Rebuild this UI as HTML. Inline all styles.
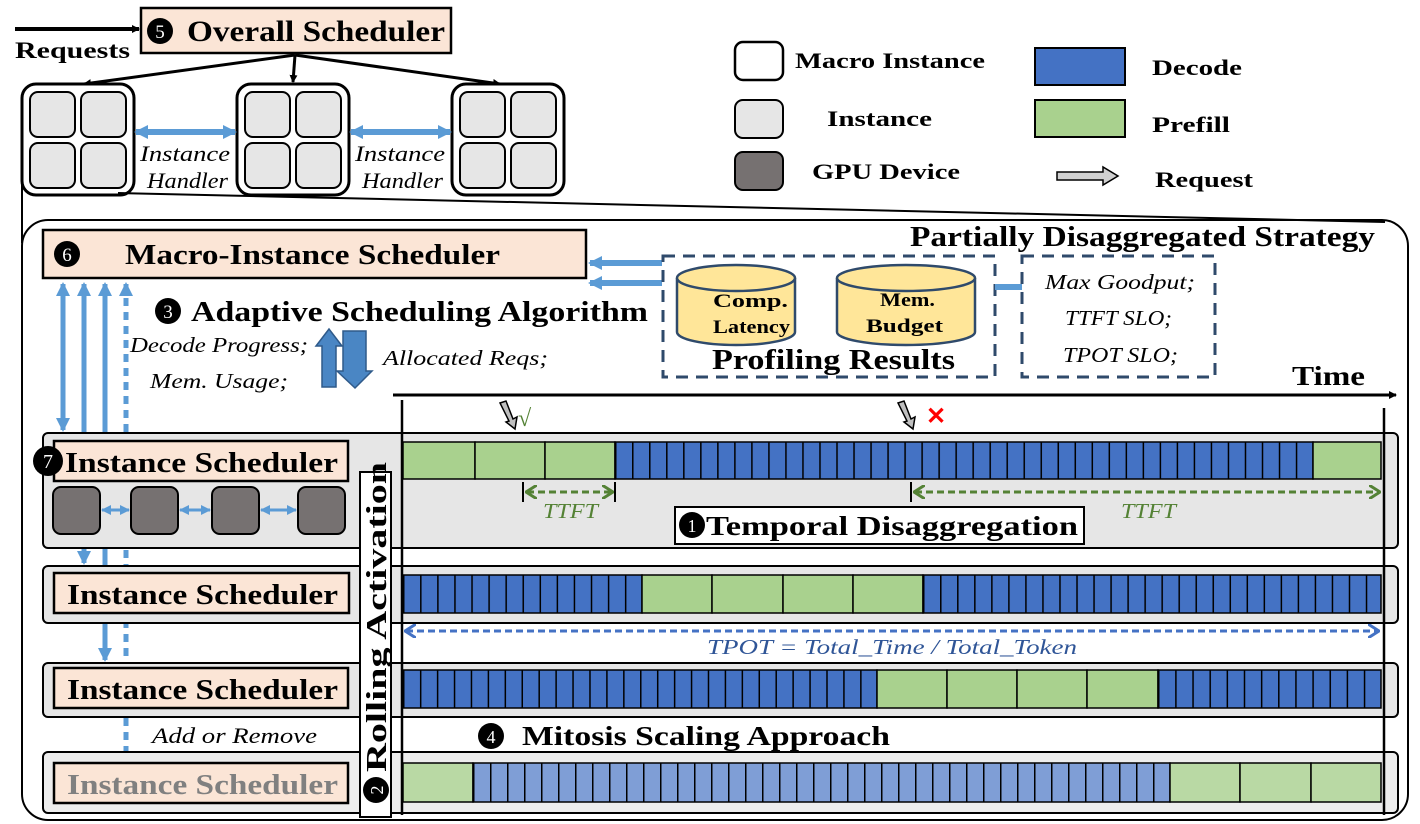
<!DOCTYPE html>
<html><head><meta charset="utf-8"><style>
html,body{margin:0;padding:0;background:#fff}
svg{display:block}
text{font-family:"Liberation Serif",serif}
.b{font-weight:bold}
.i{font-style:italic}
</style></head><body>
<svg width="1420" height="824" viewBox="0 0 1420 824" xmlns="http://www.w3.org/2000/svg">
<defs>
<marker id="ak" markerWidth="8" markerHeight="8" refX="7" refY="4" orient="auto" markerUnits="userSpaceOnUse"><path d="M0,0 L8,4 L0,8 Z" fill="#000"/></marker>
<marker id="ab" markerWidth="14" markerHeight="14" refX="12" refY="7" orient="auto-start-reverse" markerUnits="userSpaceOnUse"><path d="M0,0 L14,7 L0,14 Z" fill="#5B9BD5"/></marker>
<marker id="abs" markerWidth="10" markerHeight="10" refX="9" refY="5" orient="auto-start-reverse" markerUnits="userSpaceOnUse"><path d="M0,0 L10,5 L0,10 Z" fill="#5B9BD5"/></marker>
<marker id="ag" markerWidth="12" markerHeight="14" refX="10" refY="7" orient="auto-start-reverse" markerUnits="userSpaceOnUse"><path d="M0,0 L11,7 L0,14" fill="none" stroke="#548235" stroke-width="3"/></marker>
<marker id="abd" markerWidth="12" markerHeight="14" refX="10" refY="7" orient="auto-start-reverse" markerUnits="userSpaceOnUse"><path d="M0,0 L11,7 L0,14" fill="none" stroke="#4472C4" stroke-width="3"/></marker>
<pattern id="p1" x="615" y="0" width="17.02" height="10" patternUnits="userSpaceOnUse"><rect width="17.02" height="10" fill="#4472C4"/><rect width="1.5" height="10" fill="#000"/></pattern>
<pattern id="p2" x="403" y="0" width="17.07" height="10" patternUnits="userSpaceOnUse"><rect width="17.07" height="10" fill="#4472C4"/><rect width="1.5" height="10" fill="#000"/></pattern>
<pattern id="p3" x="923" y="0" width="17.03" height="10" patternUnits="userSpaceOnUse"><rect width="17.03" height="10" fill="#4472C4"/><rect width="1.5" height="10" fill="#000"/></pattern>
<pattern id="p4" x="1158" y="0" width="17.15" height="10" patternUnits="userSpaceOnUse"><rect width="17.15" height="10" fill="#4472C4"/><rect width="1.5" height="10" fill="#000"/></pattern>
<pattern id="p5" x="473" y="0" width="17" height="10" patternUnits="userSpaceOnUse"><rect width="17" height="10" fill="#7F9ED6"/><rect width="1.5" height="10" fill="#000"/></pattern>
<pattern id="p6" x="403" y="0" width="16.93" height="10" patternUnits="userSpaceOnUse"><rect width="16.93" height="10" fill="#4472C4"/><rect width="1.5" height="10" fill="#000"/></pattern>
</defs>

<line x1="15" y1="29" x2="139" y2="29" stroke="#000" stroke-width="4" marker-end="url(#ak)"/>
<text x="15" y="58" class="b" font-size="23" textLength="115" lengthAdjust="spacingAndGlyphs">Requests</text>
<rect x="141" y="8" width="310" height="45" fill="#FBE5D6" stroke="#000" stroke-width="2.5"/>
<circle cx="160" cy="31" r="13" fill="#000"/>
<text x="160" y="38" font-size="19" fill="#fff" text-anchor="middle">5</text>
<text x="187" y="41" class="b" font-size="30" textLength="258" lengthAdjust="spacingAndGlyphs">Overall Scheduler</text>
<g stroke="#000" stroke-width="3" fill="none">
<line x1="295" y1="55" x2="84" y2="84" marker-end="url(#ak)"/>
<line x1="295" y1="55" x2="293" y2="82" marker-end="url(#ak)"/>
<line x1="295" y1="55" x2="500" y2="84" marker-end="url(#ak)"/>
</g>
<g stroke="#000">
<rect x="22" y="84" width="112" height="111" rx="14" fill="#fff" stroke-width="3"/>
<rect x="237" y="84" width="112" height="111" rx="14" fill="#fff" stroke-width="3"/>
<rect x="452" y="84" width="112" height="111" rx="14" fill="#fff" stroke-width="3"/>
<g fill="#E6E6E6" stroke-width="2">
<rect x="30" y="92" width="45" height="45" rx="8"/><rect x="81" y="92" width="45" height="45" rx="8"/>
<rect x="30" y="143" width="45" height="45" rx="8"/><rect x="81" y="143" width="45" height="45" rx="8"/>
<rect x="245" y="92" width="45" height="45" rx="8"/><rect x="296" y="92" width="45" height="45" rx="8"/>
<rect x="245" y="143" width="45" height="45" rx="8"/><rect x="296" y="143" width="45" height="45" rx="8"/>
<rect x="460" y="92" width="45" height="45" rx="8"/><rect x="511" y="92" width="45" height="45" rx="8"/>
<rect x="460" y="143" width="45" height="45" rx="8"/><rect x="511" y="143" width="45" height="45" rx="8"/>
</g></g>
<line x1="136" y1="132" x2="235" y2="132" stroke="#5B9BD5" stroke-width="6" marker-start="url(#ab)" marker-end="url(#ab)"/>
<line x1="351" y1="132" x2="450" y2="132" stroke="#5B9BD5" stroke-width="6" marker-start="url(#ab)" marker-end="url(#ab)"/>
<text x="140" y="161" class="i" font-size="22" textLength="90" lengthAdjust="spacingAndGlyphs">Instance</text>
<text x="147" y="188" class="i" font-size="22" textLength="81" lengthAdjust="spacingAndGlyphs">Handler</text>
<text x="355" y="161" class="i" font-size="22" textLength="90" lengthAdjust="spacingAndGlyphs">Instance</text>
<text x="362" y="188" class="i" font-size="22" textLength="81" lengthAdjust="spacingAndGlyphs">Handler</text>

<rect x="735" y="42" width="48" height="38" rx="8" fill="#fff" stroke="#000" stroke-width="2.5"/>
<text x="795" y="68" class="b" font-size="22" textLength="190" lengthAdjust="spacingAndGlyphs">Macro Instance</text>
<rect x="735" y="100" width="48" height="38" rx="8" fill="#E6E6E6" stroke="#000" stroke-width="2"/>
<text x="827" y="126" class="b" font-size="22" textLength="105" lengthAdjust="spacingAndGlyphs">Instance</text>
<rect x="735" y="152" width="48" height="38" rx="8" fill="#767171" stroke="#000" stroke-width="2"/>
<text x="812" y="179" class="b" font-size="22" textLength="148" lengthAdjust="spacingAndGlyphs">GPU Device</text>
<rect x="1035" y="48" width="90" height="37" fill="#4472C4" stroke="#000" stroke-width="2"/>
<text x="1152" y="75" class="b" font-size="22" textLength="90" lengthAdjust="spacingAndGlyphs">Decode</text>
<rect x="1035" y="100" width="90" height="37" fill="#A9D18E" stroke="#000" stroke-width="2"/>
<text x="1152" y="132" class="b" font-size="22" textLength="78" lengthAdjust="spacingAndGlyphs">Prefill</text>
<path d="M1057,172 L1103,172 L1103,167 L1118,176 L1103,185 L1103,180 L1057,180 Z" fill="#D0D0D0" stroke="#000" stroke-width="1.5"/>
<text x="1155" y="187" class="b" font-size="22" textLength="98" lengthAdjust="spacingAndGlyphs">Request</text>

<line x1="22" y1="170" x2="22" y2="243" stroke="#000" stroke-width="2"/>
<line x1="118" y1="193" x2="1385" y2="222" stroke="#000" stroke-width="2"/>
<rect x="22" y="220" width="1386" height="600" rx="26" fill="none" stroke="#000" stroke-width="2"/>

<rect x="43" y="230" width="543" height="48" fill="#FBE5D6" stroke="#000" stroke-width="2.5"/>
<circle cx="67" cy="254" r="13" fill="#000"/>
<text x="67" y="261" font-size="19" fill="#fff" text-anchor="middle">6</text>
<text x="125" y="264" class="b" font-size="28" textLength="375" lengthAdjust="spacingAndGlyphs">Macro-Instance Scheduler</text>
<text x="910" y="246" class="b" font-size="29" textLength="465" lengthAdjust="spacingAndGlyphs">Partially Disaggregated Strategy</text>

<line x1="662" y1="263" x2="590" y2="263" stroke="#5B9BD5" stroke-width="6" marker-end="url(#ab)"/>
<line x1="662" y1="283" x2="590" y2="283" stroke="#5B9BD5" stroke-width="6" marker-end="url(#ab)"/>
<rect x="663" y="256" width="332" height="121" fill="none" stroke="#2F4A6B" stroke-width="3" stroke-dasharray="12,8"/>
<rect x="1022" y="256" width="193" height="121" fill="none" stroke="#2F4A6B" stroke-width="3" stroke-dasharray="12,8"/>
<line x1="995" y1="287" x2="1022" y2="287" stroke="#5B9BD5" stroke-width="6"/>
<g stroke="#2F4A6B" stroke-width="2.5" fill="#FFE699">
<path d="M677,278 L677,332 A59,13 0 0 0 795,332 L795,278"/>
<ellipse cx="736" cy="278" rx="59" ry="13"/>
<path d="M837,278 L837,332 A69,13 0 0 0 975,332 L975,278"/>
<ellipse cx="906" cy="278" rx="69" ry="13"/>
</g>
<text x="713" y="307" class="b" font-size="19" textLength="75" lengthAdjust="spacingAndGlyphs">Comp.</text>
<text x="713" y="333" class="b" font-size="19" textLength="77" lengthAdjust="spacingAndGlyphs">Latency</text>
<text x="880" y="306" class="b" font-size="19" textLength="55" lengthAdjust="spacingAndGlyphs">Mem.</text>
<text x="866" y="332" class="b" font-size="19" textLength="77" lengthAdjust="spacingAndGlyphs">Budget</text>
<text x="712" y="369" class="b" font-size="28" textLength="243" lengthAdjust="spacingAndGlyphs">Profiling Results</text>
<text x="1045" y="289" class="i" font-size="21" textLength="150" lengthAdjust="spacingAndGlyphs">Max Goodput;</text>
<text x="1065" y="325" class="i" font-size="21" textLength="107" lengthAdjust="spacingAndGlyphs">TTFT SLO;</text>
<text x="1063" y="362" class="i" font-size="21" textLength="115" lengthAdjust="spacingAndGlyphs">TPOT SLO;</text>

<circle cx="168" cy="311" r="13" fill="#000"/>
<text x="168" y="318" font-size="19" fill="#fff" text-anchor="middle">3</text>
<text x="191" y="321" class="b" font-size="29" textLength="457" lengthAdjust="spacingAndGlyphs">Adaptive Scheduling Algorithm</text>
<text x="130" y="352" class="i" font-size="21" textLength="178" lengthAdjust="spacingAndGlyphs">Decode Progress;</text>
<text x="150" y="388" class="i" font-size="21" textLength="138" lengthAdjust="spacingAndGlyphs">Mem. Usage;</text>
<text x="383" y="365" class="i" font-size="21" textLength="165" lengthAdjust="spacingAndGlyphs">Allocated Reqs;</text>
<path d="M322,387 L322,346 L316,346 L329,329 L342,346 L336,346 L336,387 Z" fill="#4A86C4" stroke="#2F5A8A" stroke-width="1.5"/>
<path d="M343,331 L343,371 L337,371 L355,388 L372,371 L366,371 L366,331 Z" fill="#4A86C4" stroke="#2F5A8A" stroke-width="1.5"/>

<line x1="63" y1="284" x2="63" y2="430" stroke="#5B9BD5" stroke-width="5" marker-start="url(#ab)" marker-end="url(#ab)"/>
<line x1="84" y1="284" x2="84" y2="563" stroke="#5B9BD5" stroke-width="5" marker-start="url(#ab)" marker-end="url(#ab)"/>
<line x1="105" y1="284" x2="105" y2="660" stroke="#5B9BD5" stroke-width="5" marker-start="url(#ab)" marker-end="url(#ab)"/>
<line x1="126" y1="284" x2="126" y2="766" stroke="#5B9BD5" stroke-width="5" stroke-dasharray="8,6" marker-start="url(#ab)" marker-end="url(#ab)"/>

<line x1="393" y1="395" x2="1396" y2="395" stroke="#000" stroke-width="3" marker-end="url(#ak)"/>
<text x="1292" y="385" class="b" font-size="27" textLength="73" lengthAdjust="spacingAndGlyphs">Time</text>

<g fill="#E6E6E6" stroke="#000" stroke-width="2">
<rect x="43" y="433" width="1355" height="115" rx="5"/>
<rect x="43" y="566" width="1355" height="57" rx="5"/>
<rect x="43" y="663" width="1355" height="54" rx="5"/>
<rect x="43" y="752" width="1355" height="61" rx="5" fill="#EDEDED"/>
</g>

<path d="M500,403 L506,401 L513,419 L517,417 L515,429 L506,422 L509,421 Z" fill="#BFBFBF" stroke="#000" stroke-width="1.5"/>
<text x="518" y="426" font-size="24" fill="#548235">√</text>
<path d="M898,403 L904,401 L911,419 L915,417 L913,429 L904,422 L907,421 Z" fill="#BFBFBF" stroke="#000" stroke-width="1.5"/>
<text x="936" y="424" font-size="24" fill="#FF0000" class="b" text-anchor="middle">✕</text>

<g stroke="#000" stroke-width="1.5">
<rect x="403" y="442" width="72" height="37" fill="#A9D18E"/>
<rect x="475" y="442" width="70" height="37" fill="#A9D18E"/>
<rect x="545" y="442" width="70" height="37" fill="#A9D18E"/>
<rect x="615" y="442" width="698" height="37" fill="url(#p1)"/>
<rect x="1313" y="442" width="68" height="37" fill="#A9D18E"/>
<rect x="403" y="575" width="239" height="38" fill="url(#p2)"/>
<rect x="642" y="575" width="70" height="38" fill="#A9D18E"/>
<rect x="712" y="575" width="71" height="38" fill="#A9D18E"/>
<rect x="783" y="575" width="70" height="38" fill="#A9D18E"/>
<rect x="853" y="575" width="70" height="38" fill="#A9D18E"/>
<rect x="923" y="575" width="458" height="38" fill="url(#p3)"/>
<rect x="403" y="670" width="474" height="38" fill="url(#p6)"/>
<rect x="877" y="670" width="70" height="38" fill="#A9D18E"/>
<rect x="947" y="670" width="70" height="38" fill="#A9D18E"/>
<rect x="1017" y="670" width="70" height="38" fill="#A9D18E"/>
<rect x="1087" y="670" width="71" height="38" fill="#A9D18E"/>
<rect x="1158" y="670" width="223" height="38" fill="url(#p4)"/>
<rect x="403" y="763" width="70" height="39" fill="#B9D9A4"/>
<rect x="473" y="763" width="697" height="39" fill="url(#p5)"/>
<rect x="1170" y="763" width="70" height="39" fill="#B9D9A4"/>
<rect x="1240" y="763" width="71" height="39" fill="#B9D9A4"/>
<rect x="1311" y="763" width="70" height="39" fill="#B9D9A4"/>
</g>

<line x1="402" y1="400" x2="402" y2="815" stroke="#000" stroke-width="2.5"/>
<line x1="1384" y1="408" x2="1384" y2="815" stroke="#000" stroke-width="2.5"/>

<line x1="523" y1="482" x2="523" y2="502" stroke="#000" stroke-width="2"/>
<line x1="615" y1="482" x2="615" y2="502" stroke="#000" stroke-width="2"/>
<line x1="527" y1="492" x2="612" y2="492" stroke="#548235" stroke-width="3" stroke-dasharray="7,4" marker-start="url(#ag)" marker-end="url(#ag)"/>
<text x="543" y="518" class="i" font-size="21" fill="#548235" textLength="55" lengthAdjust="spacingAndGlyphs">TTFT</text>
<line x1="911" y1="482" x2="911" y2="502" stroke="#000" stroke-width="2"/>
<line x1="915" y1="492" x2="1379" y2="492" stroke="#548235" stroke-width="3" stroke-dasharray="7,4" marker-start="url(#ag)" marker-end="url(#ag)"/>
<text x="1121" y="518" class="i" font-size="21" fill="#548235" textLength="55" lengthAdjust="spacingAndGlyphs">TTFT</text>
<rect x="675" y="507" width="409" height="37" fill="#fff" stroke="#000" stroke-width="2"/>
<circle cx="692" cy="525" r="13" fill="#000"/>
<text x="692" y="532" font-size="18" fill="#fff" text-anchor="middle">1</text>
<text x="706" y="535" class="b" font-size="27" textLength="372" lengthAdjust="spacingAndGlyphs">Temporal Disaggregation</text>

<line x1="406" y1="631" x2="1378" y2="631" stroke="#4472C4" stroke-width="3" stroke-dasharray="7,4" marker-start="url(#abd)" marker-end="url(#abd)"/>
<text x="707" y="654" class="i" font-size="21" fill="#2F5597" textLength="370" lengthAdjust="spacingAndGlyphs">TPOT = Total_Time / Total_Token</text>

<circle cx="491" cy="736" r="13" fill="#000"/>
<text x="491" y="743" font-size="18" fill="#fff" text-anchor="middle">4</text>
<text x="522" y="745" class="b" font-size="27" textLength="368" lengthAdjust="spacingAndGlyphs">Mitosis Scaling Approach</text>

<g stroke="#000" stroke-width="2.5" fill="#FBE5D6">
<rect x="54" y="441" width="294" height="40"/>
<rect x="54" y="573" width="295" height="40"/>
<rect x="54" y="668" width="294" height="40"/>
<rect x="54" y="763" width="294" height="40"/>
</g>
<circle cx="48" cy="461" r="15" fill="#000"/>
<text x="48" y="468" font-size="20" fill="#fff" text-anchor="middle">7</text>
<text x="65" y="472" class="b" font-size="28" textLength="273" lengthAdjust="spacingAndGlyphs">Instance Scheduler</text>
<text x="67" y="604" class="b" font-size="28" textLength="271" lengthAdjust="spacingAndGlyphs">Instance Scheduler</text>
<text x="67" y="699" class="b" font-size="28" textLength="271" lengthAdjust="spacingAndGlyphs">Instance Scheduler</text>
<text x="67" y="794" class="b" font-size="28" fill="#808080" textLength="271" lengthAdjust="spacingAndGlyphs">Instance Scheduler</text>
<g fill="#767171" stroke="#000" stroke-width="2">
<rect x="53" y="487" width="47" height="47" rx="8"/>
<rect x="131" y="487" width="47" height="47" rx="8"/>
<rect x="212" y="487" width="47" height="47" rx="8"/>
<rect x="298" y="487" width="47" height="47" rx="8"/>
</g>
<line x1="102" y1="510" x2="129" y2="510" stroke="#5B9BD5" stroke-width="3" marker-start="url(#abs)" marker-end="url(#abs)"/>
<line x1="180" y1="510" x2="210" y2="510" stroke="#5B9BD5" stroke-width="3" marker-start="url(#abs)" marker-end="url(#abs)"/>
<line x1="261" y1="510" x2="296" y2="510" stroke="#5B9BD5" stroke-width="3" marker-start="url(#abs)" marker-end="url(#abs)"/>
<text x="152" y="743" class="i" font-size="22" textLength="165" lengthAdjust="spacingAndGlyphs">Add or Remove</text>

<rect x="360" y="472" width="31" height="345" fill="#fff" stroke="#000" stroke-width="2"/>
<circle cx="376" cy="790" r="13" fill="#000"/>
<text transform="translate(383,790) rotate(-90)" font-size="18" fill="#fff" text-anchor="middle">2</text>
<text transform="translate(386,772) rotate(-90)" class="b" font-size="28" textLength="310" lengthAdjust="spacingAndGlyphs">Rolling Activation</text>
</svg>
</body></html>
